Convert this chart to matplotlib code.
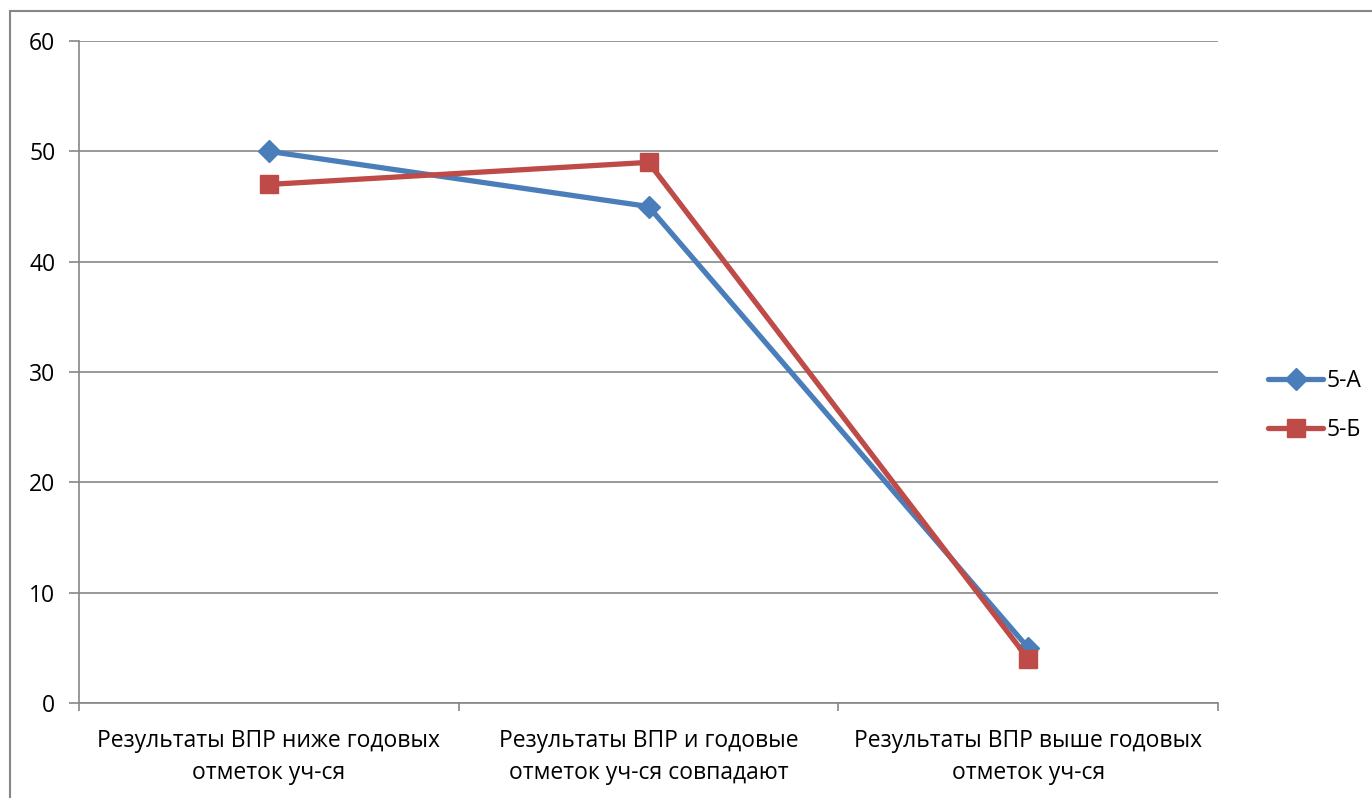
import matplotlib.pyplot as plt
from matplotlib.patches import Rectangle

categories = ['Результаты ВПР ниже годовых\nотметок уч-ся',
              'Результаты ВПР и годовые\nотметок уч-ся совпадают',
              'Результаты ВПР выше годовых\nотметок уч-ся']
series_a = [50, 45, 5]
series_b = [47, 49, 4]
yticks = [0, 10, 20, 30, 40, 50, 60]

plt.rcParams['font.family'] = ['Open Sans', 'DejaVu Sans']
fs = 16.5

fig = plt.figure(figsize=(13.72, 7.98), dpi=100)
ax = fig.add_axes([79 / 1372, 95 / 798, (1218 - 79) / 1372, (703 - 41) / 798])

# outer chart frame (cropped on right/bottom)
fig.patches.append(Rectangle((10 / 1372, -0.1), 1.2, (787 / 798) + 0.1,
                             transform=fig.transFigure, fill=False,
                             edgecolor='#868686', linewidth=1.5))

x = range(len(categories))
ax.plot(x, series_a, color='#4A7EBB', linewidth=3.8, marker='D', markersize=11,
        label='5-А', solid_capstyle='round')
ax.plot(x, series_b, color='#BE4B48', linewidth=3.8, marker='s', markersize=13,
        label='5-Б', solid_capstyle='round')

ax.set_xlim(-0.5, 2.5)
ax.set_ylim(0, 60)
ax.set_yticks(yticks)
ax.yaxis.grid(True, color='#868686', linewidth=1.2)
ax.set_axisbelow(True)

ax.set_xticks([-0.5, 0.5, 1.5, 2.5])
ax.set_xticklabels([])
ax.set_xticks(list(x), minor=True)
ax.set_xticklabels(categories, minor=True, fontsize=fs, linespacing=1.4)
ax.tick_params(axis='x', which='minor', length=0, pad=19)
ax.tick_params(axis='x', which='major', length=6, color='#868686', width=1.2)
ax.tick_params(axis='y', length=7, color='#868686', width=1.2, labelsize=fs, pad=10)

for s in ['top', 'right']:
    ax.spines[s].set_visible(False)
for s in ['left', 'bottom']:
    ax.spines[s].set_color('#868686')
    ax.spines[s].set_linewidth(1.2)

ax.legend(loc='center left', bbox_to_anchor=(1.026, 0.449), frameon=False,
          fontsize=fs, handlelength=2.4, labelspacing=1.1, handletextpad=0.15)

fig.savefig('out.png', dpi=100)
